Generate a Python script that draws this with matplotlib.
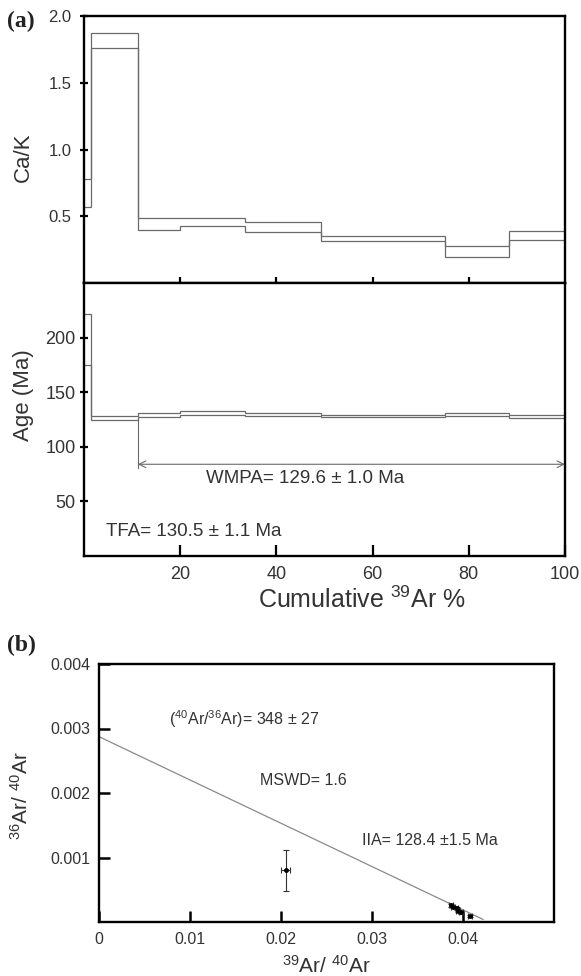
import matplotlib
matplotlib.use("Agg")
import matplotlib.pyplot as plt
import numpy as np

plt.rcParams["font.family"] = ["Liberation Sans", "DejaVu Sans"]
plt.rcParams["mathtext.fontset"] = "custom"
plt.rcParams["mathtext.rm"] = "Liberation Sans"
plt.rcParams["mathtext.default"] = "regular"

# ---- step-heating data (cumulative 39Ar % step edges) ----
step_edges = [0, 1.5, 11.2, 19.9, 33.5, 49.3, 75.1, 88.3, 100]
cak_low = [0.57, 1.76, 0.395, 0.43, 0.38, 0.315, 0.195, 0.32]
cak_high = [0.78, 1.87, 0.485, 0.485, 0.455, 0.35, 0.28, 0.39]
age_low = [175, 124.2, 127.0, 128.7, 128.6, 127.5, 128.0, 126.8]
age_high = [222, 127.8, 130.5, 132.4, 131.0, 129.4, 131.0, 129.3]
plateau_first_step = 2
wmpa_text = "WMPA= 129.6 ± 1.0 Ma"
tfa_text = "TFA= 130.5 ± 1.1 Ma"

cak_ticks = [0.5, 1.0, 1.5, 2.0]
age_ticks = [50, 100, 150, 200]
cum_ticks = [20, 40, 60, 80, 100]

# ---- inverse isochron data ----
iso_x = [0.0205, 0.03865, 0.03893, 0.0393, 0.03945, 0.0398, 0.0408]
iso_y = [0.00080, 0.00026, 0.000234, 0.00021, 0.00017, 0.00015, 0.00009]
iso_xerr = [0.00045, 0.0002, 0.0002, 0.0002, 0.0002, 0.0002, 0.0002]
iso_yerr = [0.00032, 0.00002, 0.00002, 0.00002, 0.00002, 0.00002, 0.00002]
trapped_ratio = 348          # (40Ar/36Ar)i
x_intercept = 0.0428         # 39Ar/40Ar intercept
line_end_x = 0.0422
iso_xticks = [0, 0.01, 0.02, 0.03, 0.04]
iso_yticks = [0.001, 0.002, 0.003, 0.004]

TXT = "#333333"
GRAY = "#6a6a6a"

fig = plt.figure(figsize=(5.81, 9.76), dpi=100)
W, H = 581.0, 976.0


def frac_rect(x0, y0, x1, y1):
    return [x0 / W, 1 - y1 / H, (x1 - x0) / W, (y1 - y0) / H]


def style_spines(ax, lw=1.7):
    for s in ax.spines.values():
        s.set_linewidth(lw)
        s.set_color("black")


ax1 = fig.add_axes(frac_rect(84, 16, 565, 283))
ax2 = fig.add_axes(frac_rect(84, 283, 565, 556))
ax3 = fig.add_axes(frac_rect(99, 664, 554, 922))

# ---- Ca/K spectrum ----
ax1.stairs(cak_high, step_edges, baseline=None, color=GRAY, lw=0.9)
ax1.stairs(cak_low, step_edges, baseline=None, color=GRAY, lw=0.9)
ax1.set_xlim(0, 100)
ax1.set_ylim(0, 2.0)
ax1.set_yticks(cak_ticks)
ax1.set_yticklabels([f"{v:.1f}" for v in cak_ticks])
ax1.set_xticks(cum_ticks[:-1])
ax1.set_xticklabels([])
ax1.tick_params(axis="y", direction="inout", length=6, width=1.6,
                labelsize=12, labelcolor=TXT, pad=6)
ax1.tick_params(axis="x", direction="inout", length=8, width=1.6)
ax1.set_ylabel("Ca/K", fontsize=16, color=TXT)
ax1.yaxis.set_label_coords(-0.104, 0.47)
style_spines(ax1)

# ---- age spectrum ----
ax2.stairs(age_high, step_edges, baseline=None, color=GRAY, lw=0.9)
ax2.stairs(age_low, step_edges, baseline=None, color=GRAY, lw=0.9)
ax2.set_xlim(0, 100)
ax2.set_ylim(0, 250)
ax2.set_yticks(age_ticks)
ax2.set_xticks(cum_ticks)
ax2.set_xticklabels([str(v) for v in cum_ticks])
ax2.tick_params(axis="y", direction="inout", length=6, width=1.6,
                labelsize=13, labelcolor=TXT, pad=3)
ax2.tick_params(axis="x", direction="in", length=8, width=1.6,
                labelsize=13, labelcolor=TXT, pad=7)
ax2.set_ylabel("Age (Ma)", fontsize=16, color=TXT)
ax2.yaxis.set_label_coords(-0.104, 0.59)
style_spines(ax2)

# plateau marker
x_start = step_edges[plateau_first_step]
ax2.plot([x_start, x_start], [age_low[plateau_first_step - 1], 81],
         color=GRAY, lw=0.8)
ax2.annotate("", xy=(100, 84), xytext=(x_start, 84),
             arrowprops=dict(arrowstyle="<->", color=GRAY, lw=0.8,
                             shrinkA=0, shrinkB=0, mutation_scale=12))
ax2.text(46, 71, wmpa_text, ha="center", va="center", fontsize=13.5, color=TXT)
ax2.text(4.6, 22, tfa_text, ha="left", va="center", fontsize=13.5, color=TXT)

fig.text(362 / W, 1 - 600 / H, r"Cumulative $^{39}$Ar %", ha="center",
         va="center", fontsize=18, color=TXT)

# ---- inverse isochron ----
intercept = 1.0 / trapped_ratio
xs = np.array([0, line_end_x])
ax3.plot(xs, intercept * (1 - xs / x_intercept), color="#8a8a8a", lw=0.9)
ax3.errorbar(iso_x, iso_y, xerr=iso_xerr, yerr=iso_yerr, fmt="o",
             ms=2.5, color="black", ecolor="#333333", elinewidth=0.8,
             capsize=2, capthick=0.8)
ax3.set_xlim(0, 0.05)
ax3.set_ylim(0, 0.004)
ax3.set_xticks(iso_xticks)
ax3.set_xticklabels(["0", "0.01", "0.02", "0.03", "0.04"])
ax3.set_yticks(iso_yticks)
ax3.set_yticklabels([f"{v:.3f}" for v in iso_yticks])
ax3.tick_params(axis="both", direction="in", length=8, width=1.8,
                labelsize=11.5, labelcolor=TXT)
ax3.tick_params(axis="x", pad=7)
ax3.tick_params(axis="y", pad=6)
ax3.set_ylabel(r"$^{36}$Ar/ $^{40}$Ar", fontsize=15, color=TXT)
ax3.yaxis.set_label_coords(-0.147, 0.49)
ax3.set_xlabel(r"$^{39}$Ar/ $^{40}$Ar", fontsize=15, color=TXT, labelpad=6)
style_spines(ax3)

ax3.text(0.0077, 0.00315, r"($^{40}$Ar/$^{36}$Ar)= 348 ± 27", ha="left",
         va="center", fontsize=11.5, color=TXT)
ax3.text(0.0177, 0.00219, "MSWD= 1.6", ha="left", va="center",
         fontsize=11.5, color=TXT)
ax3.text(0.0289, 0.00127, "IIA= 128.4 ±1.5 Ma", ha="left", va="center",
         fontsize=11.5, color=TXT)

# panel letters
fig.text(7 / W, 1 - 21 / H, "(a)", fontsize=17, fontweight="bold",
         family="Liberation Serif", ha="left", va="center", color="#222222")
fig.text(7 / W, 1 - 645 / H, "(b)", fontsize=17, fontweight="bold",
         family="Liberation Serif", ha="left", va="center", color="#222222")

fig.savefig("out.png", dpi=100)
